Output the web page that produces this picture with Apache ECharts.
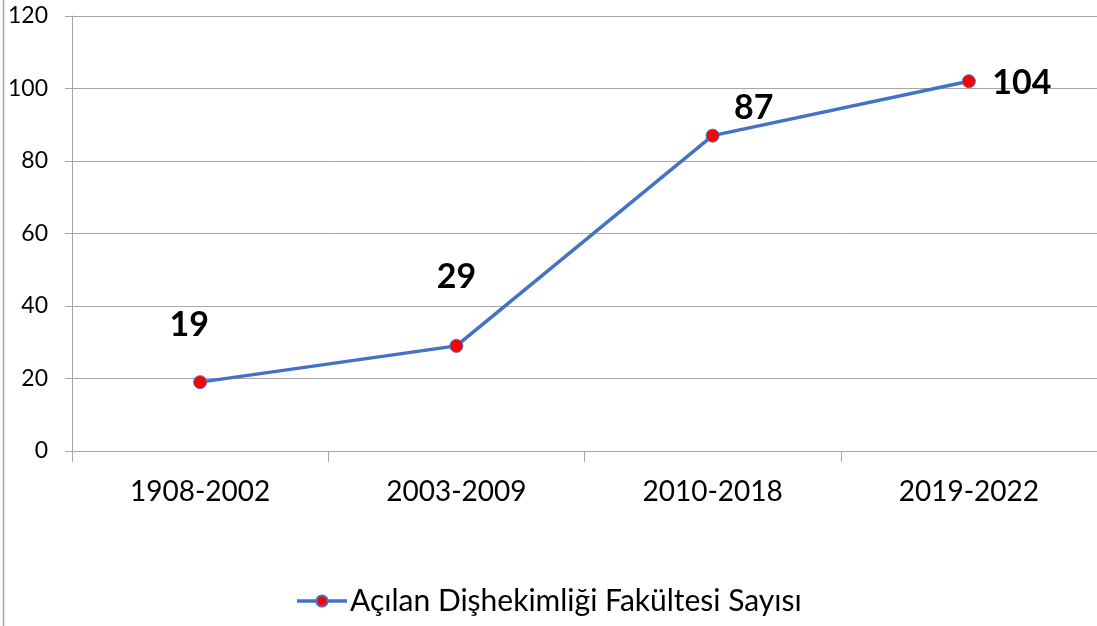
<!DOCTYPE html>
<html>
<head>
<meta charset="utf-8">
<script src="https://cdn.jsdelivr.net/npm/echarts@6/dist/echarts.min.js"></script>
<style>
  html, body { margin: 0; padding: 0; background: #fff; }
  #main { width: 1097px; height: 626px; }
</style>
</head>
<body>
<div id="main"></div>
<script>
  // data
  const periods = ['1908-2002', '2003-2009', '2010-2018', '2019-2022'];
  const facultyCounts = [19, 29, 87, 102];
  const labelTexts = ['19', '29', '87', '104'];
  const labelOffsets = [[-11, -57], [0, -69], [41, -28], [53, 2]];
  const yTicks = { min: 0, max: 120, interval: 20 };

  const font = 'Lato, "Noto Sans", sans-serif';

  const chart = echarts.init(document.getElementById('main'));

  chart.setOption({
    animation: false,
    textStyle: { fontFamily: font },
    graphic: [{
      type: 'line',
      shape: { x1: 3.5, y1: 0, x2: 3.5, y2: 626 },
      style: { stroke: '#a6a6a6', lineWidth: 1.5 }
    }],
    grid: { left: 72, right: 0, top: 16, bottom: 175 },
    legend: {
      bottom: 5,
      left: 'center',
      itemWidth: 50,
      itemHeight: 14,
      itemGap: 6,
      lineStyle: { width: 3.5 },
      textStyle: { fontSize: 30, color: '#000', fontFamily: font, padding: [0, 0, 0, -2] },
      data: ['Açılan Dişhekimliği Fakültesi Sayısı']
    },
    xAxis: {
      type: 'category',
      data: periods,
      boundaryGap: true,
      axisLine: { lineStyle: { color: '#a6a6a6', width: 1 } },
      axisTick: { show: true, alignWithLabel: false, length: 11, lineStyle: { color: '#a6a6a6' } },
      axisLabel: { fontSize: 28, color: '#000', margin: 27, fontFamily: font }
    },
    yAxis: {
      type: 'value',
      min: yTicks.min,
      max: yTicks.max,
      interval: yTicks.interval,
      axisLine: { show: true, lineStyle: { color: '#a6a6a6', width: 1 } },
      axisTick: { show: true, length: 7, lineStyle: { color: '#a6a6a6' } },
      axisLabel: { fontSize: 23, color: '#000', margin: 24, fontFamily: font },
      splitLine: { lineStyle: { color: '#a6a6a6', width: 1 } }
    },
    series: [{
      name: 'Açılan Dişhekimliği Fakültesi Sayısı',
      type: 'line',
      data: facultyCounts.map((v, i) => ({
        value: v,
        label: { offset: labelOffsets[i], formatter: labelTexts[i] }
      })),
      symbol: 'circle',
      symbolSize: 13,
      lineStyle: { color: '#4472c4', width: 3.5 },
      itemStyle: { color: '#ff0000', borderColor: '#4472c4', borderWidth: 1 },
      label: {
        show: true,
        position: 'inside',
        fontSize: 34,
        fontWeight: 'bold',
        color: '#000',
        fontFamily: font
      }
    }]
  });
</script>
</body>
</html>
